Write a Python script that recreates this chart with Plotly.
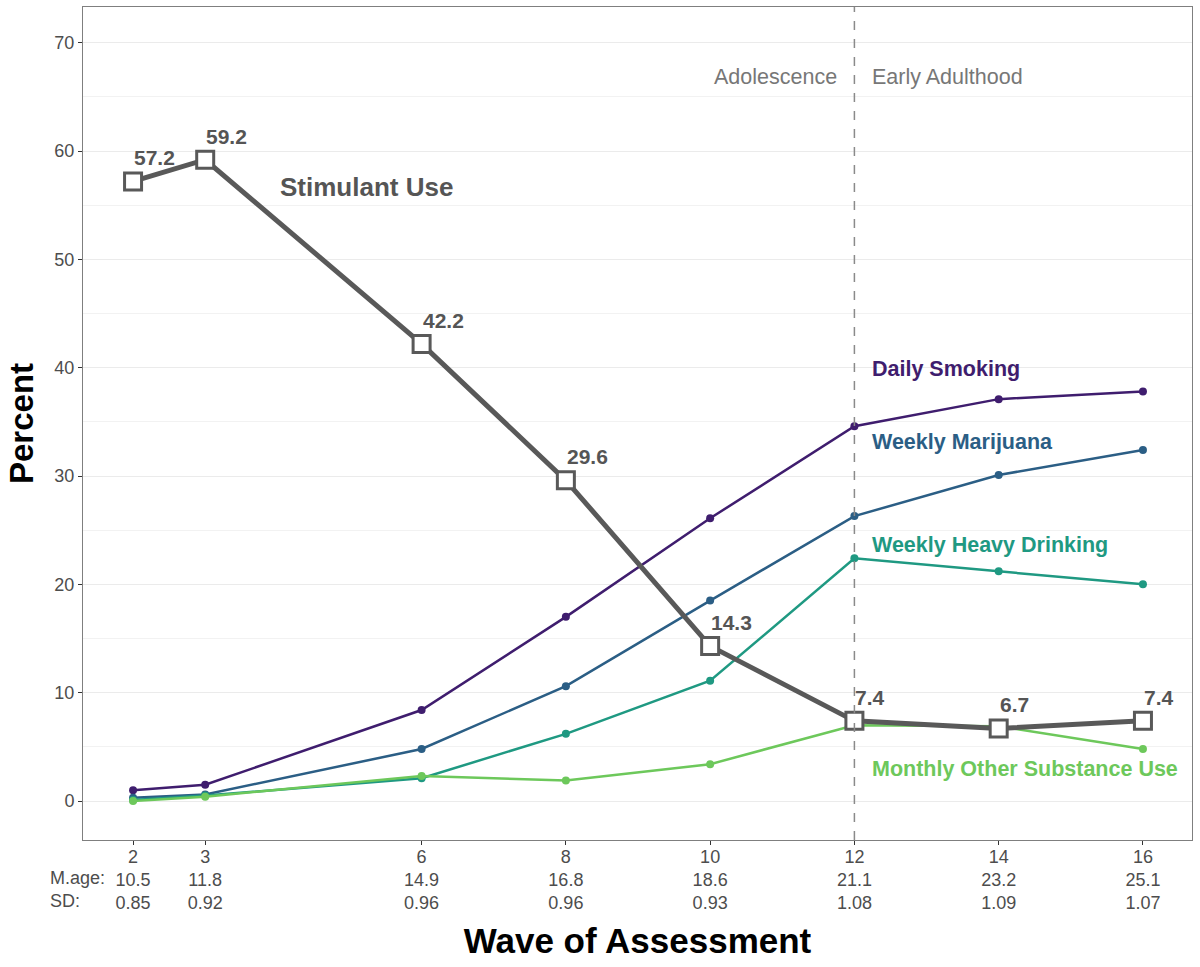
import plotly.graph_objects as go

waves = [2, 3, 6, 8, 10, 12, 14, 16]
mean_age = ["10.5", "11.8", "14.9", "16.8", "18.6", "21.1", "23.2", "25.1"]
sd_age = ["0.85", "0.92", "0.96", "0.96", "0.93", "1.08", "1.09", "1.07"]

stimulant = [57.2, 59.2, 42.2, 29.6, 14.3, 7.4, 6.7, 7.4]
daily_smoking = [1.0, 1.5, 8.4, 17.0, 26.1, 34.6, 37.1, 37.8]
weekly_marijuana = [0.3, 0.6, 4.8, 10.6, 18.5, 26.3, 30.1, 32.4]
weekly_heavy_drinking = [0.1, 0.5, 2.1, 6.2, 11.1, 22.4, 21.2, 20.0]
monthly_other = [0.0, 0.4, 2.3, 1.9, 3.4, 7.0, 6.9, 4.8]

series_names = ["Daily Smoking", "Weekly Marijuana", "Weekly Heavy Drinking",
                "Monthly Other Substance Use"]
series_values = [daily_smoking, weekly_marijuana, weekly_heavy_drinking, monthly_other]
series_colors = ["#3F1D6E", "#2B5E85", "#1F9982", "#6DC85B"]
label_y = [39.9, 33.1, 23.6, 3.0]

FONT = "Liberation Sans, Arial, Helvetica"

fig = go.Figure()

for name, vals, col in zip(series_names, series_values, series_colors):
    fig.add_trace(go.Scatter(x=waves, y=vals, mode="lines+markers", name=name,
                             line=dict(color=col, width=2.5),
                             marker=dict(color=col, size=8)))

fig.add_trace(go.Scatter(x=waves, y=stimulant, mode="lines+markers", name="Stimulant Use",
                         line=dict(color="#595959", width=5),
                         marker=dict(symbol="square", size=17, color="white",
                                     line=dict(color="#595959", width=3))))

# value labels for stimulant
for xv, yv in zip(waves, stimulant):
    fig.add_annotation(x=xv, y=yv, text=f"<b>{yv}</b>", showarrow=False,
                       xanchor="left", yanchor="bottom", xshift=-1, yshift=10,
                       font=dict(size=21, color="#555555", family=FONT))

# series labels
for name, col, ly in zip(series_names, series_colors, label_y):
    fig.add_annotation(x=12.22, y=ly, text=f"<b>{name}</b>", showarrow=False,
                       xanchor="left", yanchor="middle",
                       font=dict(size=21.5, color=col, family=FONT))

fig.add_annotation(x=5.24, y=56.7, text="<b>Stimulant Use</b>", showarrow=False,
                   xanchor="center", yanchor="middle",
                   font=dict(size=26, color="#555555", family=FONT))

fig.add_vline(x=12, line=dict(color="#8A8A8A", width=1.5, dash="dash"))
fig.add_annotation(x=11.78, y=66.85, text="Adolescence", showarrow=False,
                   xanchor="right", yanchor="middle",
                   font=dict(size=21.5, color="#777777", family=FONT))
fig.add_annotation(x=12.22, y=66.85, text="Early Adulthood", showarrow=False,
                   xanchor="left", yanchor="middle",
                   font=dict(size=21.5, color="#777777", family=FONT))

# row labels for tick text
for txt, ys in [("M.age:", -38), ("SD:", -61)]:
    fig.add_annotation(x=0, xref="paper", xanchor="left", xshift=-35,
                       y=0, yref="paper", yanchor="middle", yshift=ys,
                       text=txt, showarrow=False,
                       font=dict(size=18, color="#4D4D4D", family=FONT))

ticktext = [f"{w}<br>{m}<br>{s}" for w, m, s in zip(waves, mean_age, sd_age)]

fig.update_layout(
    width=1200, height=967,
    margin=dict(l=83, r=8, t=7, b=127),
    plot_bgcolor="white", paper_bgcolor="white",
    showlegend=False,
    font=dict(family=FONT, color="#4D4D4D"),
    xaxis=dict(range=[1.306, 16.68], tickvals=waves, ticktext=ticktext,
               tickfont=dict(size=18, color="#4D4D4D"), ticklabelstandoff=-4,
               showgrid=False, zeroline=False, ticks="outside", ticklen=4,
               tickcolor="#333333", showline=True, linecolor="#7F7F7F", mirror=True,
               title=dict(text="<b>Wave of Assessment</b>",
                          font=dict(size=35, color="black"), standoff=16)),
    yaxis=dict(range=[-3.6, 73.3], tickvals=[0, 10, 20, 30, 40, 50, 60, 70],
               tickfont=dict(size=18, color="#4D4D4D"),
               showgrid=True, gridcolor="#EBEBEB", gridwidth=1.2, zeroline=False,
               minor=dict(tickvals=[5, 15, 25, 35, 45, 55, 65], showgrid=True,
                          gridcolor="#F2F2F2", gridwidth=1),
               ticks="outside", ticklen=4, tickcolor="#333333",
               showline=True, linecolor="#7F7F7F", mirror=True,
               title=dict(text="<b>Percent</b>", font=dict(size=33, color="black"),
                          standoff=10)),
)

fig.write_html("out.html", config={"displayModeBar": False},
               post_script="document.body.style.margin='0px';")
